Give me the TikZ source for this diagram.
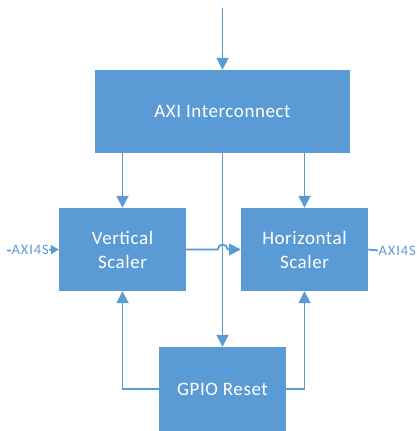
\documentclass[tikz,border=0pt]{standalone}
\usepackage{fontspec}
\setmainfont{Carlito}
\usetikzlibrary{arrows.meta}
\definecolor{boxblue}{HTML}{5B9BD5}
\tikzset{
  blk/.style={rectangle, draw=none, fill=boxblue, text=white, align=center,
    font=\fontsize{19}{24}\selectfont\addfontfeature{LetterSpace=3}, inner sep=0pt},
  wire/.style={draw=boxblue, line width=1.8pt},
  arr/.style={wire, -{Triangle[width=12pt,length=12pt]}},
  sarr/.style={wire, -{Triangle[width=9pt,length=8pt]}},
  lbl/.style={text=boxblue, font=\fontsize{14.5}{16}\selectfont\addfontfeature{LetterSpace=6},
    fill=white, inner sep=0.5pt}
}
\begin{document}
\begin{tikzpicture}[x=1pt,y=-1pt]
\useasboundingbox (0,0) rectangle (416,431);
\node[blk, minimum width=255pt, minimum height=83pt] (axi) at (222.5,111.5) {AXI Interconnect};
\node[blk, minimum width=127pt, minimum height=83pt] (vs) at (122.5,249.5) {Vertical\\Scaler};
\node[blk, minimum width=127pt, minimum height=83pt] (hs) at (304.5,249.5) {Horizontal\\Scaler};
\node[blk, minimum width=127pt, minimum height=84pt] (gpio) at (222.5,389) {GPIO Reset};
\coordinate (top) at (222.5,8);
\draw[arr] (top) -- (axi.north);
\draw[arr] (vs.north |- axi.south) -- (vs.north);
\draw[arr] (hs.north |- axi.south) -- (hs.north);
\draw[arr] (axi.south) -- (gpio.north);
\draw[arr] (vs.east) -- ++(31.5,0) arc[start angle=180, end angle=360, radius=5] -- (hs.west);
\draw[arr] (gpio.west) -| (vs.south);
\draw[arr] (gpio.east) -| (hs.south);
\coordinate (inl) at (7,250.5);
\draw[sarr] (inl) -- (vs.west);
\node[lbl, anchor=west] (inlbl) at (11,250) {AXI4S};
\coordinate (outr) at (378,250.5);
\draw[wire] (hs.east) -- (outr);
\node[lbl, anchor=west] (outlbl) at (outr) {AXI4S};
\end{tikzpicture}
\end{document}
